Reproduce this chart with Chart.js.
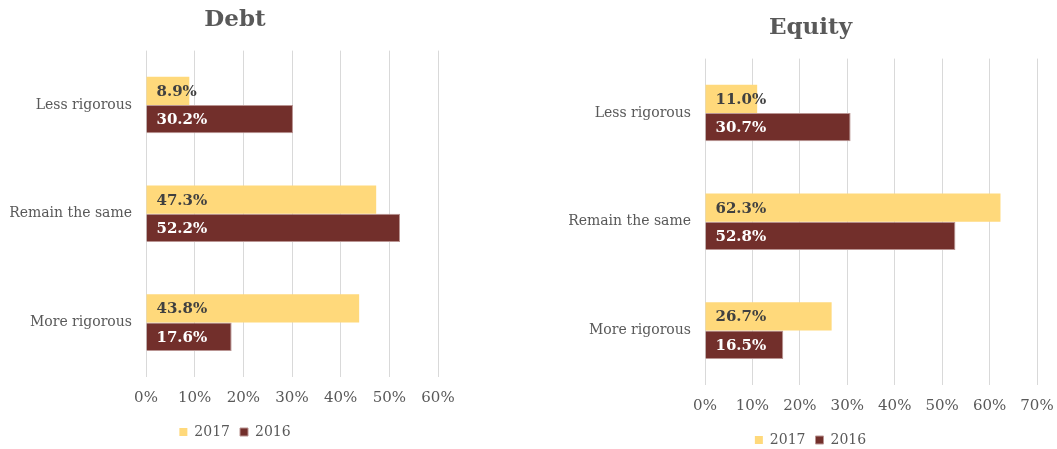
<!DOCTYPE html>
<html>
<head>
<meta charset="utf-8">
<script src="https://cdn.jsdelivr.net/npm/chart.js@4/dist/chart.umd.min.js"></script>
<style>
  html, body { margin: 0; padding: 0; background: #fff; overflow: hidden; }
  body { width: 1057px; height: 449px; position: relative; }
  .box { position: absolute; height: 449px; }
  #debtBox { left: 0; top: 0; width: 470px; }
  #equityBox { left: 564px; top: 8px; width: 493px; }
</style>
</head>
<body>
<div class="box" id="debtBox"><canvas id="debtChart"></canvas></div>
<div class="box" id="equityBox"><canvas id="equityChart"></canvas></div>
<script>
const categories = ['Less rigorous', 'Remain the same', 'More rigorous'];
const seriesNames = ['2017', '2016'];

const debt2017 = [8.9, 47.3, 43.8];
const debt2016 = [30.2, 52.2, 17.6];
const equity2017 = [11.0, 62.3, 26.7];
const equity2016 = [30.7, 52.8, 16.5];

const debtTicks = [0, 10, 20, 30, 40, 50, 60];
const equityTicks = [0, 10, 20, 30, 40, 50, 60, 70];

const FONT = "'DejaVu Serif', 'Liberation Serif', serif";
const GREY = '#595959';
const YELLOW = '#FFD97B';
const MAROON = '#722F2B';

// value labels inside the bars, near the base
const barLabels = {
    id: 'barLabels',
    afterDatasetsDraw(chart) {
        const ctx = chart.ctx;
        ctx.save();
        ctx.font = 'bold 15px ' + FONT;
        ctx.textAlign = 'left';
        ctx.textBaseline = 'middle';
        chart.data.datasets.forEach((ds, i) => {
            const meta = chart.getDatasetMeta(i);
            ctx.fillStyle = i === 0 ? '#404040' : '#ffffff';
            meta.data.forEach((bar, j) => {
                ctx.fillText(ds.data[j].toFixed(1) + '%', bar.base + 10, bar.y + 1);
            });
        });
        ctx.restore();
    }
};

function makeChart(id, title, d2017, d2016, ticks, axisWidth, padRight) {
    new Chart(document.getElementById(id), {
        type: 'bar',
        data: {
            labels: categories,
            datasets: [{
                label: seriesNames[0],
                data: d2017,
                backgroundColor: YELLOW
            }, {
                label: seriesNames[1],
                data: d2016,
                backgroundColor: MAROON,
                borderColor: '#B99492',
                borderWidth: 1
            }]
        },
        options: {
            indexAxis: 'y',
            responsive: true,
            maintainAspectRatio: false,
            animation: false,
            datasets: {
                bar: {
                    categoryPercentage: 0.52,
                    barPercentage: 1
                }
            },
            plugins: {
                title: {
                    display: true,
                    text: title,
                    color: GREY,
                    font: { family: FONT, size: 23, weight: 'bold' },
                    padding: { top: 6, bottom: 17 }
                },
                legend: {
                    position: 'bottom',
                    labels: {
                        color: GREY,
                        font: { family: FONT, size: 14 },
                        boxWidth: 8,
                        boxHeight: 8,
                        padding: 10
                    }
                },
                tooltip: { enabled: false }
            },
            scales: {
                x: {
                    min: 0,
                    max: ticks[ticks.length - 1],
                    afterBuildTicks: scale => {
                        scale.ticks = ticks.map(v => ({ value: v }));
                    },
                    // keep title/legend centred on the canvas, squeeze only the plot
                    afterFit: scale => {
                        scale.height = 38;
                        scale.paddingRight = padRight;
                    },
                    border: { display: false },
                    grid: {
                        color: '#D9D9D9',
                        drawTicks: false
                    },
                    ticks: {
                        color: GREY,
                        font: { family: FONT, size: 15 },
                        padding: 12,
                        callback: v => v + '%'
                    }
                },
                y: {
                    afterFit: scale => { scale.width = axisWidth; },
                    border: { display: false },
                    grid: { display: false, drawTicks: false },
                    ticks: {
                        color: GREY,
                        font: { family: FONT, size: 14 },
                        padding: 14
                    }
                }
            }
        },
        plugins: [barLabels]
    });
}

makeChart('debtChart', 'Debt', debt2017, debt2016, debtTicks, 146, 32);
makeChart('equityChart', 'Equity', equity2017, equity2016, equityTicks, 141, 20);
</script>
</body>
</html>
